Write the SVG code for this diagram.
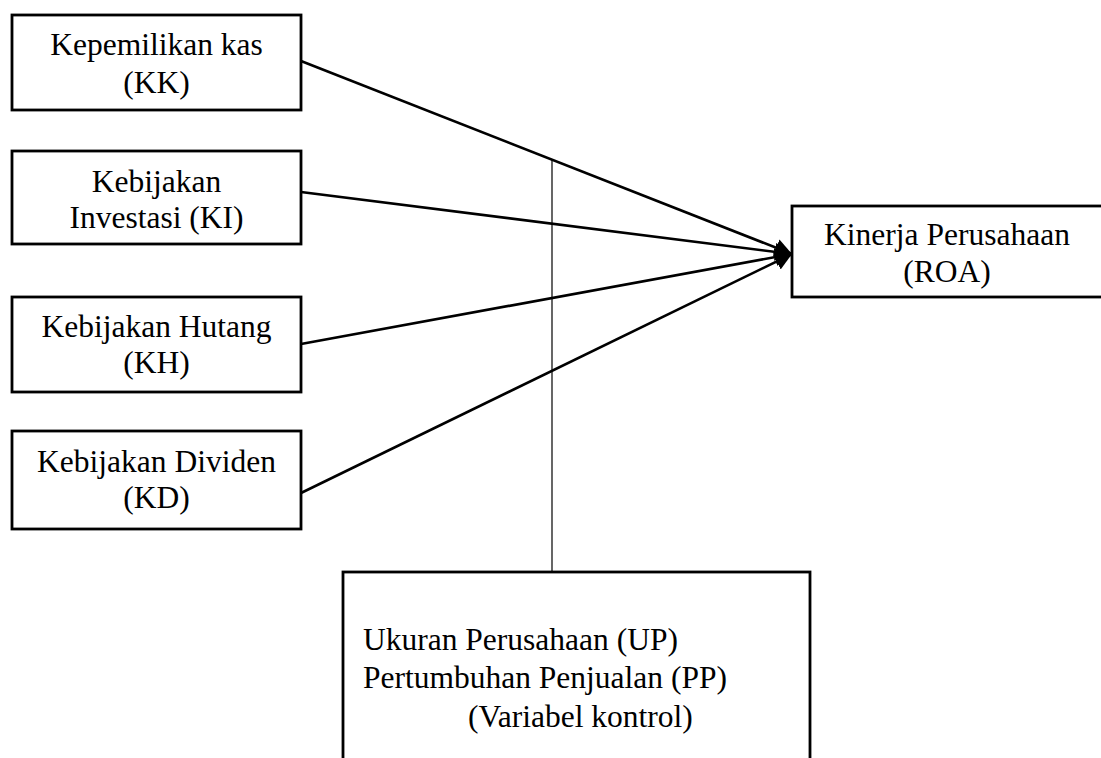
<svg xmlns="http://www.w3.org/2000/svg" width="1101" height="758" viewBox="0 0 1101 758">
<style>
.box{fill:#fff;stroke:#000;stroke-width:2.8}
.t{font-family:"Liberation Serif","Times New Roman",serif;font-size:31.5px;fill:#000}
.c{text-anchor:middle}
.conn{stroke:#000;stroke-width:2.6;fill:none}
.thin{stroke:#000;stroke-width:1.2;fill:none}
</style>
<defs>
<marker id="ah" markerUnits="userSpaceOnUse" markerWidth="22" markerHeight="20" refX="17" refY="9" orient="auto">
<path d="M0,0 L17,9 L0,18 Z" fill="#000"/>
</marker>
</defs>
<rect width="1101" height="758" fill="#fff"/>
<g id="connectors">
<line class="thin" x1="552" y1="159" x2="552" y2="572"/>
<line class="conn" x1="301" y1="61" x2="792" y2="254" marker-end="url(#ah)"/>
<line class="conn" x1="301" y1="192" x2="792" y2="254" marker-end="url(#ah)"/>
<line class="conn" x1="301" y1="344" x2="792" y2="254" marker-end="url(#ah)"/>
<line class="conn" x1="301" y1="493" x2="792" y2="254" marker-end="url(#ah)"/>
</g>
<g id="node-kk">
<rect class="box" x="12" y="15" width="289" height="95"/>
<text class="t c" x="156.5" y="55">Kepemilikan kas</text>
<text class="t c" x="156.5" y="93">(KK)</text>
</g>
<g id="node-ki">
<rect class="box" x="12" y="151" width="289" height="93"/>
<text class="t c" x="156.5" y="192">Kebijakan</text>
<text class="t c" x="156.5" y="228">Investasi (KI)</text>
</g>
<g id="node-kh">
<rect class="box" x="12" y="297" width="289" height="95"/>
<text class="t c" x="156.5" y="337">Kebijakan Hutang</text>
<text class="t c" x="156.5" y="373">(KH)</text>
</g>
<g id="node-kd">
<rect class="box" x="12" y="431" width="289" height="98"/>
<text class="t c" x="156.5" y="472">Kebijakan Dividen</text>
<text class="t c" x="156.5" y="508">(KD)</text>
</g>
<g id="node-roa">
<rect class="box" x="792" y="206" width="312" height="91"/>
<text class="t c" x="947" y="245">Kinerja Perusahaan</text>
<text class="t c" x="947" y="282">(ROA)</text>
</g>
<g id="node-control">
<rect class="box" x="343" y="572" width="467" height="200"/>
<text class="t" x="363" y="650">Ukuran Perusahaan (UP)</text>
<text class="t" x="363" y="688">Pertumbuhan Penjualan (PP)</text>
<text class="t" x="468" y="727">(Variabel kontrol)</text>
</g>
</svg>
